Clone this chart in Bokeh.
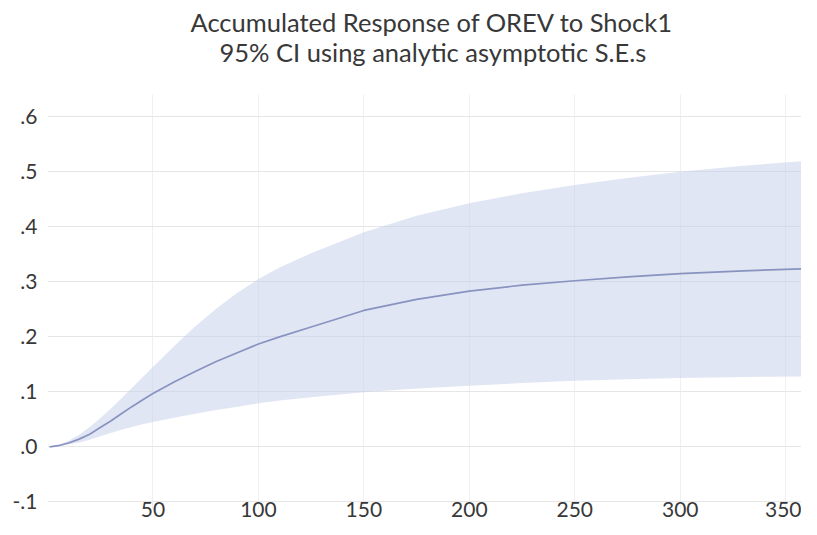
from bokeh.plotting import figure
from bokeh.models import Title, FixedTicker, ColumnDataSource
from bokeh.embed import file_html
from bokeh.resources import INLINE

# ---- data ----
horizon = [1, 5, 10, 15, 20, 25, 30, 35, 40, 45, 50, 60, 70, 80, 90, 100,
           110, 125, 150, 175, 200, 225, 250, 275, 300, 330, 360]
response = [0.000, 0.002, 0.007, 0.014, 0.023, 0.035, 0.047, 0.060, 0.073,
            0.085, 0.097, 0.118, 0.137, 0.155, 0.171, 0.187, 0.200, 0.218,
            0.248, 0.268, 0.283, 0.294, 0.302, 0.309, 0.315, 0.320, 0.324]
upper = [0.000, 0.003, 0.011, 0.022, 0.036, 0.052, 0.069, 0.088, 0.107,
         0.126, 0.145, 0.183, 0.219, 0.251, 0.280, 0.305, 0.326, 0.352,
         0.390, 0.420, 0.443, 0.461, 0.476, 0.489, 0.500, 0.511, 0.520]
lower = [0.000, 0.001, 0.004, 0.008, 0.013, 0.019, 0.025, 0.031, 0.036,
         0.041, 0.045, 0.053, 0.060, 0.067, 0.073, 0.079, 0.084, 0.090,
         0.099, 0.106, 0.111, 0.116, 0.120, 0.123, 0.125, 0.127, 0.128]

x_ticks = [50, 100, 150, 200, 250, 300, 350]
y_ticks = [-0.1, 0.0, 0.1, 0.2, 0.3, 0.4, 0.5, 0.6]
y_tick_labels = ["-.1", ".0", ".1", ".2", ".3", ".4", ".5", ".6"]

title_line1 = "Accumulated Response of OREV to Shock1"
title_line2 = "95% CI using analytic asymptotic S.E.s"

FONT = "Lato"
TEXT = "#383838"

src = ColumnDataSource(dict(x=horizon, y=response, lo=lower, hi=upper))

p = figure(width=801, height=519, output_backend="svg", toolbar_location=None,
           x_range=(0, 357.5), y_range=(-0.114, 0.6407),
           min_border_left=47, min_border_right=0, min_border_top=94,
           min_border_bottom=0)
p.outline_line_color = None
p.background_fill_color = "white"
p.border_fill_color = "white"

p.varea(x="x", y1="lo", y2="hi", source=src, fill_color="#c3cdea", fill_alpha=0.5)
p.line(x="x", y="y", source=src, line_color="#8893c0", line_width=1.7)

p.add_layout(Title(text=title_line2, align="left", offset=172, text_font=FONT,
                   text_font_size="25.5px", text_font_style="normal",
                   text_color=TEXT, standoff=56), "above")
p.add_layout(Title(text=title_line1, align="left", offset=143, text_font=FONT,
                   text_font_size="25.5px", text_font_style="normal",
                   text_color=TEXT, standoff=-60), "above")

p.xaxis.ticker = FixedTicker(ticks=x_ticks)
p.yaxis.ticker = FixedTicker(ticks=y_ticks)
p.yaxis.major_label_overrides = {t: l for t, l in zip(y_ticks, y_tick_labels)}
for ax in (p.xaxis, p.yaxis):
    ax.axis_line_color = None
    ax.major_tick_line_color = None
    ax.minor_tick_line_color = None
    ax.major_tick_out = 0
    ax.major_tick_in = 0
    ax.major_label_text_font = FONT
    ax.major_label_text_font_size = "21px"
    ax.major_label_text_color = TEXT
p.xaxis.major_label_standoff = -8
p.yaxis.major_label_standoff = 10

p.ygrid.grid_line_color = "#e6e6e6"
p.xgrid.grid_line_color = "#f0f0f0"

open("out.html", "w").write(file_html(p, INLINE))
